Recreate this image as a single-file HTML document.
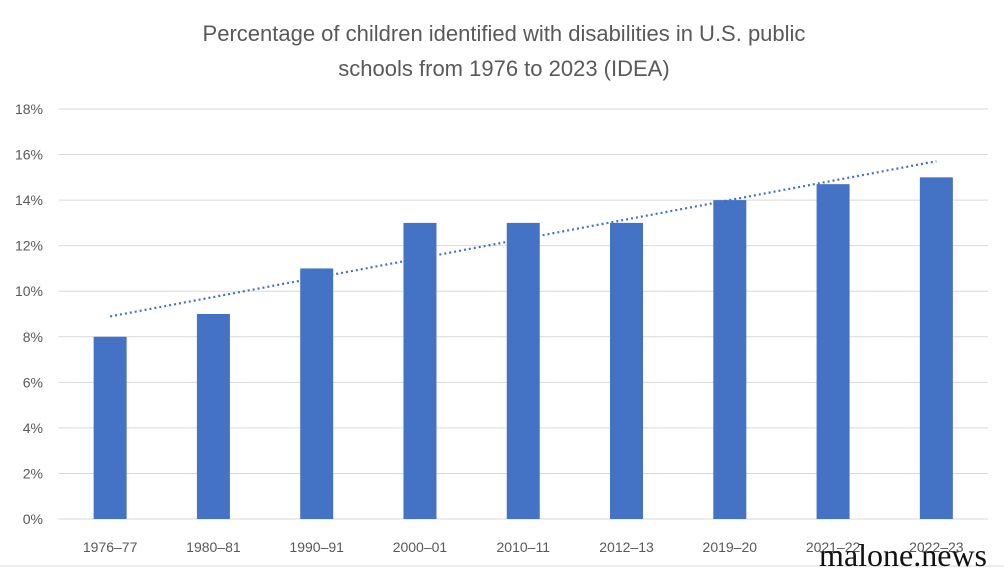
<!DOCTYPE html>
<html><head><meta charset="utf-8"><style>
body{margin:0;background:#fff;}
svg{display:block;font-family:"Liberation Sans",sans-serif;}
</style></head><body>
<svg id="chart" width="1004" height="570" viewBox="0 0 1004 570">
<text x="504" y="41" text-anchor="middle" font-size="22" fill="#595959">Percentage of children identified with disabilities in U.S. public</text>
<text x="504" y="76" text-anchor="middle" font-size="22" fill="#595959">schools from 1976 to 2023 (IDEA)</text>
<g id="grid"></g><g id="bars"></g><g id="xlabels"></g>
<line x1="0" y1="566" x2="1004" y2="566" stroke="#d9d9d9" stroke-width="1"/>
<text x="987" y="566" text-anchor="end" font-family="Liberation Serif,serif" font-size="32" fill="#111">malone.news</text>
</svg>
<script>
const categories=["1976–77","1980–81","1990–91","2000–01","2010–11","2012–13","2019–20","2021–22","2022–23"];
const values=[8,9,11,13,13,13,14,14.7,15];
const yTicks=[0,2,4,6,8,10,12,14,16,18];
const NS="http://www.w3.org/2000/svg";
const x0=58.5,x1=988,y0=519,yTop=109,yMax=18;
const bw=(x1-x0)/categories.length;
const y=v=>y0-(v/yMax)*(y0-yTop);
const xc=i=>x0+bw*(i+0.5);
function mk(t,a,p){const e=document.createElementNS(NS,t);for(const k in a)e.setAttribute(k,a[k]);p.appendChild(e);return e;}
const grid=document.getElementById('grid'),bars=document.getElementById('bars'),xl=document.getElementById('xlabels');
yTicks.forEach(t=>{
  const l=mk('line',{x1:x0,x2:x1,y1:y(t),y2:y(t),stroke:'#d9d9d9','stroke-width':1},grid);
  
  
  const tx=mk('text',{x:43,y:y(t)+5,'text-anchor':'end','font-size':14,fill:'#595959'},grid);
  tx.textContent=t+'%';
  
  
});
values.forEach((v,i)=>{
  const r=mk('rect',{x:xc(i)-16.5,y:y(v),width:33,height:y0-y(v),fill:'#4472c4'},bars);
  
  
  const t=mk('text',{x:xc(i),y:552,'text-anchor':'middle','font-size':14,fill:'#595959'},xl);
  t.textContent=categories[i];
  
  
});
const n=values.length,mx=(n-1)/2,my=values.reduce((a,b)=>a+b,0)/n;
let sxy=0,sxx=0;values.forEach((v,i)=>{sxy+=(i-mx)*(v-my);sxx+=(i-mx)*(i-mx);});
const slope=sxy/sxx,b=my-slope*mx;
const tl=mk('line',{x1:xc(0),y1:y(b),x2:xc(n-1),y2:y(b+slope*(n-1)),stroke:'#4472c4','stroke-width':2.2,'stroke-dasharray':'2,3'},bars);


</script>
</body></html>
